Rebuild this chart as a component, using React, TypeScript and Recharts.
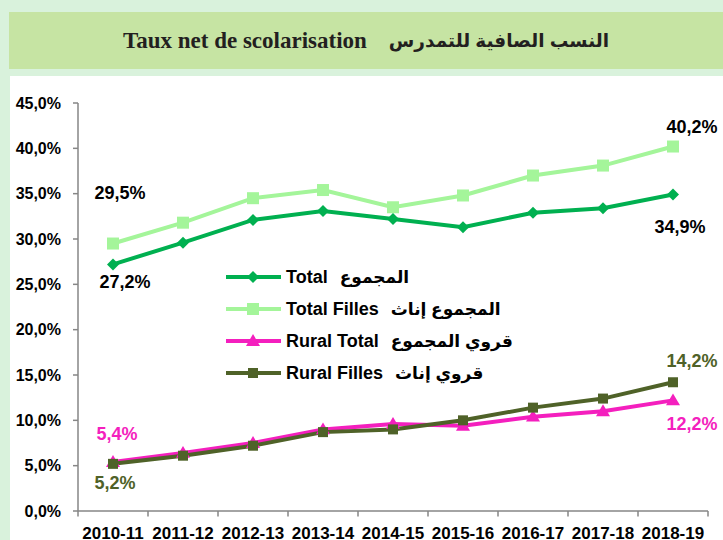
import React from "react";
import {
  LineChart,
  Line,
  XAxis,
  YAxis,
  LabelList,
  ReferenceLine,
} from "recharts";

const years = [
  "2010-11",
  "2011-12",
  "2012-13",
  "2013-14",
  "2014-15",
  "2015-16",
  "2016-17",
  "2017-18",
  "2018-19",
];

const total = [27.2, 29.6, 32.1, 33.1, 32.2, 31.3, 32.9, 33.4, 34.9];
const totalFilles = [29.5, 31.8, 34.5, 35.4, 33.5, 34.8, 37.0, 38.1, 40.2];
const ruralTotal = [5.4, 6.4, 7.5, 9.0, 9.6, 9.4, 10.4, 11.0, 12.2];
const ruralFilles = [5.2, 6.1, 7.2, 8.7, 9.0, 10.0, 11.4, 12.4, 14.2];

const yTicks = [0, 5, 10, 15, 20, 25, 30, 35, 40, 45];

const FONT = '"Liberation Sans", "DejaVu Sans", Arial, sans-serif';

const C_TOTAL = "#00B050";
const C_TOTAL_F = "#A4F59A";
const C_RURAL = "#F41FBE";
const C_RURAL_F = "#4F6228";

const data = years.map((name, i) => ({
  x: i,
  name,
  total: total[i],
  totalFilles: totalFilles[i],
  ruralTotal: ruralTotal[i],
  ruralFilles: ruralFilles[i],
}));

const fmt = (v: number) => v.toFixed(1).replace(".", ",") + "%";

const legendItems = [
  { en: "Total", ar: "المجموع", color: C_TOTAL, shape: "diamond" },
  { en: "Total Filles", ar: "المجموع إناث", color: C_TOTAL_F, shape: "bigsquare" },
  { en: "Rural Total", ar: "قروي المجموع", color: C_RURAL, shape: "triangle" },
  { en: "Rural Filles", ar: "قروي إناث", color: C_RURAL_F, shape: "square" },
];

function Marker({ cx, cy, shape, color }: any) {
  if (cx == null || cy == null) return null;
  if (shape === "diamond") {
    const r = 6;
    return (
      <polygon
        points={`${cx},${cy - r} ${cx + r},${cy} ${cx},${cy + r} ${cx - r},${cy}`}
        fill={color}
      />
    );
  }
  if (shape === "triangle") {
    const r = 7;
    return (
      <polygon
        points={`${cx},${cy - r} ${cx + r},${cy + r * 0.7} ${cx - r},${cy + r * 0.7}`}
        fill={color}
      />
    );
  }
  const s = shape === "bigsquare" ? 12 : 10;
  return <rect x={cx - s / 2} y={cy - s / 2} width={s} height={s} fill={color} />;
}

const makeDot = (shape: string, color: string) => (props: any) => (
  <Marker key={props.index} cx={props.cx} cy={props.cy} shape={shape} color={color} />
);

// labels only on first and last point
const makeLabel =
  (color: string, first: [number, number], last: [number, number]) =>
  (props: any) => {
    const { x, y, value, index } = props;
    if (index !== 0 && index !== years.length - 1) return null;
    const [dx, dy] = index === 0 ? first : last;
    return (
      <text
        x={x + dx}
        y={y + dy}
        textAnchor="middle"
        dominantBaseline="central"
        fill={color}
        fontFamily={FONT}
        fontWeight="bold"
        fontSize={18}
      >
        {fmt(value)}
      </text>
    );
  };

function LegendBox() {
  return (
    <div
      style={{
        position: "absolute",
        left: 226,
        top: 261,
        fontFamily: FONT,
        fontWeight: "bold",
        fontSize: 18,
      }}
    >
      {legendItems.map((it) => (
        <div
          key={it.en}
          style={{ display: "flex", alignItems: "center", height: 32, whiteSpace: "nowrap" }}
        >
          <svg width={56} height={20} style={{ marginRight: 4, flex: "none" }}>
            <line x1={0} y1={10} x2={55} y2={10} stroke={it.color} strokeWidth={4} />
            <Marker cx={27} cy={10} shape={it.shape} color={it.color} />
          </svg>
          <span style={{ color: "#000" }}>{it.en}</span>
          <span dir="rtl" style={{ color: "#000", marginLeft: 12, fontSize: 17 }}>
            {it.ar}
          </span>
        </div>
      ))}
    </div>
  );
}

export default function App() {
  return (
    <div
      style={{
        position: "absolute",
        left: 0,
        top: 0,
        width: 723,
        height: 540,
        overflow: "hidden",
        background: "#d9f2dc",
      }}
    >
      <div
        style={{
          position: "absolute",
          left: 9,
          top: 12,
          right: 0,
          height: 57,
          background: "#c6e4a3",
          display: "flex",
          alignItems: "center",
          justifyContent: "center",
          fontFamily: '"Liberation Serif", "DejaVu Serif", serif',
          fontWeight: "bold",
          fontSize: 23,
          color: "#231f20",
          whiteSpace: "nowrap",
        }}
      >
        <span style={{ marginRight: 22 }}>Taux net de scolarisation</span>
        <span dir="rtl" style={{ fontSize: 18.5, fontFamily: FONT }}>
          النسب الصافية للتمدرس
        </span>
      </div>
      <div
        style={{
          position: "absolute",
          left: 10,
          top: 76,
          right: 0,
          bottom: 0,
          background: "#ffffff",
        }}
      />
      <div style={{ position: "absolute", left: 0, top: 0 }}>
        <LineChart
          width={723}
          height={540}
          data={data}
          margin={{ top: 103, right: 15, bottom: 0, left: 10 }}
        >
          <XAxis
            dataKey="x"
            type="number"
            domain={[-0.5, 8.5]}
            ticks={years.map((_, i) => i)}
            tickFormatter={(i: number) => years[i]}
            tickLine={false}
            axisLine={{ stroke: "#868686", strokeWidth: 1.5 }}
            height={29}
            interval={0}
            tick={{ fill: "#000", fontFamily: FONT, fontWeight: "bold", fontSize: 17 }}
            tickMargin={10}
          />
          <YAxis
            type="number"
            domain={[0, 45]}
            ticks={yTicks}
            tickFormatter={fmt}
            width={68}
            interval={0}
            axisLine={{ stroke: "#868686", strokeWidth: 1.5 }}
            tickLine={{ stroke: "#868686", strokeWidth: 1.5 }}
            tickSize={5}
            tickMargin={12}
            tick={{ fill: "#000", fontFamily: FONT, fontWeight: "bold", fontSize: 16 }}
          />
          {[...years.map((_, i) => i - 0.5), years.length - 0.5].map((b) => (
            <ReferenceLine
              key={b}
              segment={[
                { x: b, y: 0 },
                { x: b, y: -0.6 },
              ]}
              stroke="#868686"
              strokeWidth={1.5}
              ifOverflow="visible"
            />
          ))}
          <Line
            dataKey="totalFilles"
            stroke={C_TOTAL_F}
            strokeWidth={4}
            dot={makeDot("bigsquare", C_TOTAL_F)}
            isAnimationActive={false}
          >
            <LabelList content={makeLabel("#000", [7, -51], [19, -20])} />
          </Line>
          <Line
            dataKey="total"
            stroke={C_TOTAL}
            strokeWidth={4}
            dot={makeDot("diamond", C_TOTAL)}
            isAnimationActive={false}
          >
            <LabelList content={makeLabel("#000", [12, 18], [7, 32])} />
          </Line>
          <Line
            dataKey="ruralTotal"
            stroke={C_RURAL}
            strokeWidth={4}
            dot={makeDot("triangle", C_RURAL)}
            isAnimationActive={false}
          >
            <LabelList content={makeLabel(C_RURAL, [4, -28], [19, 24])} />
          </Line>
          <Line
            dataKey="ruralFilles"
            stroke={C_RURAL_F}
            strokeWidth={4}
            dot={makeDot("square", C_RURAL_F)}
            isAnimationActive={false}
          >
            <LabelList content={makeLabel(C_RURAL_F, [2, 19], [19, -21])} />
          </Line>
        </LineChart>
      </div>
      <LegendBox />
    </div>
  );
}
